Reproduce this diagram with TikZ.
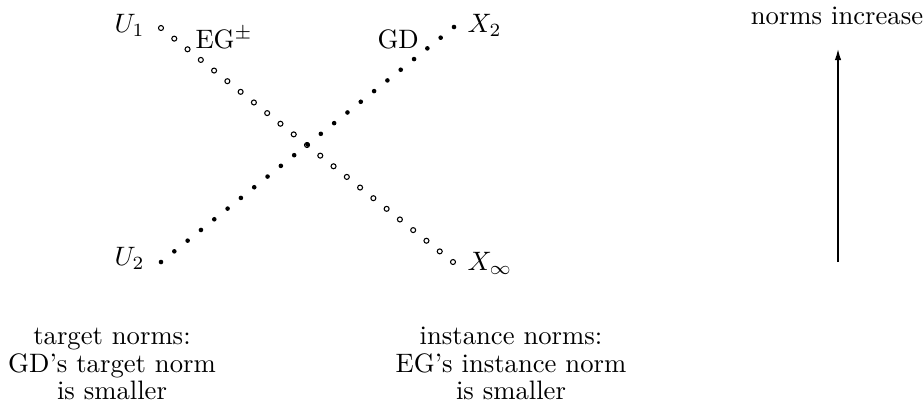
\documentclass[tikz,border=0pt]{standalone}
\usetikzlibrary{arrows.meta}
\begin{document}
\begin{tikzpicture}[x=0.375pt,y=-0.375pt,
  lbl/.style={inner sep=0pt, font=\fontsize{10}{12}\selectfont},
  opendot/.style={draw=black, fill=white, line width=0.4pt},
  filldot/.style={fill=black},
  uparrow/.style={line width=0.75pt, -{Latex[length=4.5pt,width=2.4pt]}}]
\useasboundingbox (0,0) rectangle (923,410);
% EG line (open circles)
\foreach \i in {0,...,22} {
  \path[opendot] ({161+\i*292/22},{28+\i*234/22}) circle[radius=2.5];
}
% GD line (filled dots)
\foreach \i in {0,...,22} {
  \path[filldot] ({161+\i*293/22},{262-\i*235/22}) circle[radius=2.3];
}
% labels
\node[lbl, anchor=base west] (U1) at (114,32) {$U_1$};
\node[lbl, anchor=base west] (EG) at (195,48) {EG$^{\pm}$};
\node[lbl, anchor=base west] (GD) at (377,48) {GD};
\node[lbl, anchor=base west] (X2) at (467,32) {$X_2$};
\node[lbl, anchor=base west] (U2) at (114,265) {$U_2$};
\node[lbl, anchor=base west] (Xinf) at (467,270) {$X_\infty$};
% norms increase
\node[lbl, anchor=base] (ni) at (837,24) {norms increase};
\coordinate (abot) at (838,262);
\coordinate (atop) at (838,48);
\draw[uparrow] (abot) -- (atop);
% bottom texts
\node[lbl, anchor=base] (tn1) at (112,344) {target norms:};
\node[lbl, anchor=base] (tn2) at (112,372) {GD's target norm};
\node[lbl, anchor=base] (tn3) at (112,399) {is smaller};
\node[lbl, anchor=base] (in1) at (511,344) {instance norms:};
\node[lbl, anchor=base] (in2) at (511,372) {EG's instance norm};
\node[lbl, anchor=base] (in3) at (511,399) {is smaller};
\end{tikzpicture}
\end{document}
